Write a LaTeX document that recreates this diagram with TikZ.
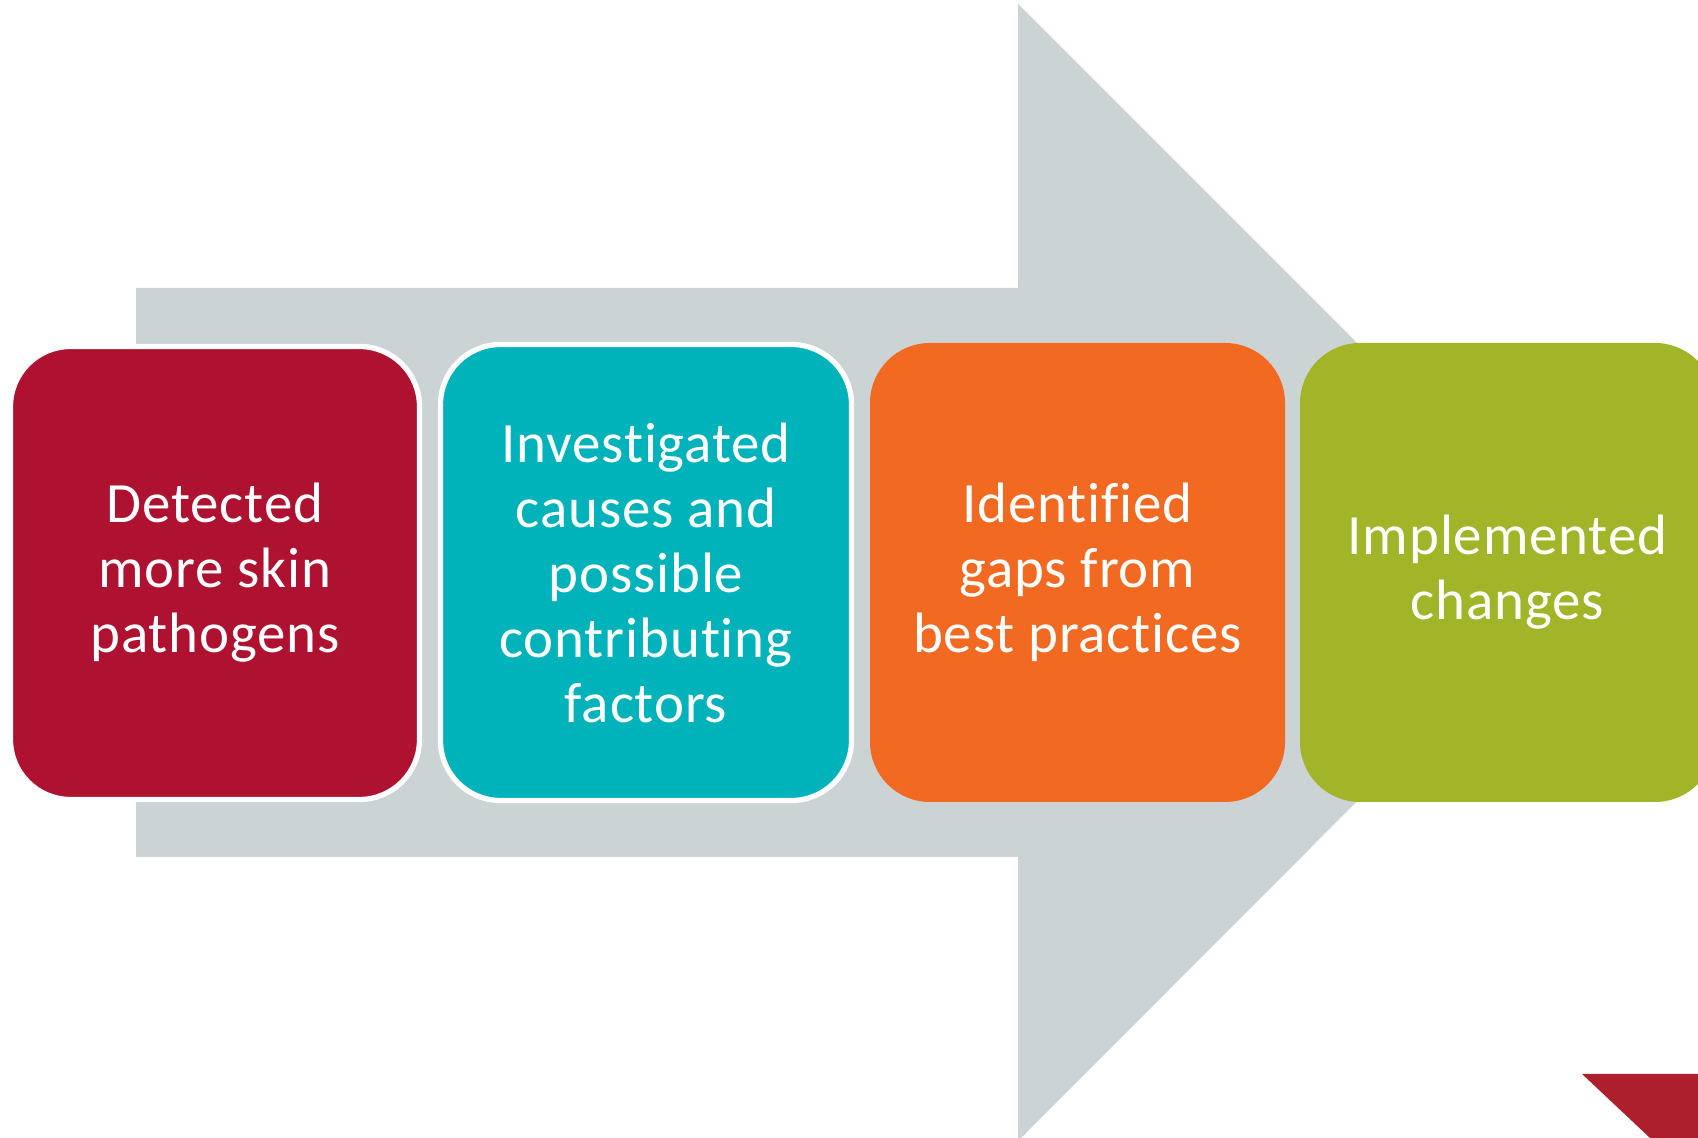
\documentclass[tikz,border=0pt]{standalone}
\usepackage{fontspec}
\setmainfont{Carlito}[Ligatures=NoCommon, LetterSpace=1.5]
\usepackage{tikz}

\definecolor{arrowgrey}{HTML}{CBD3D5}
\definecolor{stagered}{HTML}{AE1230}
\definecolor{stageteal}{HTML}{00B2BA}
\definecolor{stageorange}{HTML}{F26922}
\definecolor{stagegreen}{HTML}{A2B528}
\definecolor{cornerred}{HTML}{AD1F2D}

\begin{document}
\begin{tikzpicture}
\tikzstyle{every node}=[shape=rectangle, rounded corners=0.6cm, text=white, align=center,
  inner sep=0pt, font=\fontsize{16.2}{18.5}\selectfont];
\tikzstyle{stage}=[minimum width=4.15cm, minimum height=4.59cm];
\tikzstyle{rimmed}=[draw=white, line width=1.5pt];
\clip (0,0) rectangle (16.98,11.38);
% big grey arrow behind the stages
\fill[arrowgrey] (1.36,8.50) -- (10.18,8.50) -- (10.18,11.34) -- (15.86,5.66)
  -- (10.18,-0.03) -- (10.18,2.81) -- (1.36,2.81) -- cycle;
\path (2.15,5.65) node[stage, rimmed, fill=stagered, minimum width=4.09cm, minimum height=4.53cm] (det)
  {Detected\\more skin\\pathogens};
\path (6.46,5.655) node[stage, rimmed, fill=stageteal, minimum width=4.11cm, minimum height=4.56cm] (inv)
  {Investigated\\causes and\\possible\\contributing\\factors};
\path (10.775,5.655) node[stage, fill=stageorange] (gaps)
  {Identified\\gaps from\\best practices};
\path (15.075,5.655) node[stage, fill=stagegreen] (impl)
  {Implemented\\changes};
% corner mark
\fill[cornerred] (15.82,0.64) -- (16.98,0.64) -- (16.98,0) -- (16.50,0) -- cycle;
\end{tikzpicture}
\end{document}
